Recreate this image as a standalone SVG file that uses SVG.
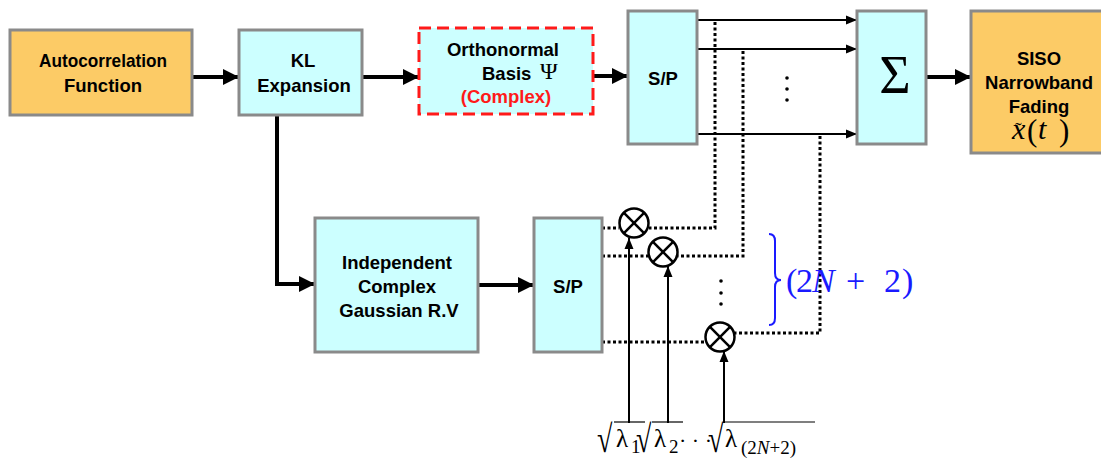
<svg xmlns="http://www.w3.org/2000/svg" width="1101" height="460" viewBox="0 0 1101 460">
<style>
.box{stroke:#8a8a8a;stroke-width:3}
.cyan{fill:#ccffff}
.orange{fill:#fccb66}
.lbl{font-family:"Liberation Sans",Arial,sans-serif;font-weight:bold;font-size:18.5px;fill:#000;text-anchor:middle}
.thick{stroke:#000;stroke-width:4;fill:none}
.thin{stroke:#000;stroke-width:2;fill:none}
.dot{stroke:#000;stroke-width:3;fill:none;stroke-dasharray:3 2.5}
.math{font-family:"Liberation Serif","Times New Roman",serif;fill:#000}
.blue{fill:#1a1aff}
.mul circle{fill:#fff;stroke:#000;stroke-width:2.5}
.mul line{stroke:#000;stroke-width:2.5}
</style>
<defs>
<marker id="ah" markerUnits="userSpaceOnUse" markerWidth="17" markerHeight="17" refX="16" refY="8" orient="auto"><path d="M0,0 L16,8 L0,16 z" fill="#000"/></marker>
<marker id="ah2" markerUnits="userSpaceOnUse" markerWidth="12" markerHeight="10" refX="11" refY="5" orient="auto"><path d="M0,0.5 L11,5 L0,9.5 z" fill="#000"/></marker>
</defs>
<rect width="1101" height="460" fill="#fff"/>

<g id="connectors">
<line class="thick" x1="192" y1="77" x2="239" y2="77" marker-end="url(#ah)"/>
<line class="thick" x1="362" y1="77" x2="419" y2="77" marker-end="url(#ah)"/>
<line class="thick" x1="593" y1="76" x2="628" y2="76" marker-end="url(#ah)"/>
<line class="thick" x1="926" y1="77" x2="971" y2="77" marker-end="url(#ah)"/>
<polyline class="thick" points="277,115 277,284 315,284" marker-end="url(#ah)"/>
<line class="thick" x1="478" y1="285" x2="534" y2="285" marker-end="url(#ah)"/>
<line class="thin" x1="697" y1="20" x2="857" y2="20" marker-end="url(#ah2)"/>
<line class="thin" x1="697" y1="49" x2="857" y2="49" marker-end="url(#ah2)"/>
<line class="thin" x1="697" y1="134" x2="857" y2="134" marker-end="url(#ah2)"/>
<polyline class="dot" points="715,22 715,228 649,228"/>
<polyline class="dot" points="743,51 743,256 678,256"/>
<polyline class="dot" points="820,136 820,333 735,333"/>
<line class="dot" x1="602" y1="228" x2="619" y2="228"/>
<line class="dot" x1="602" y1="256" x2="648" y2="256"/>
<line class="dot" x1="602" y1="342" x2="706" y2="342"/>
<line class="thin" x1="629" y1="423" x2="629" y2="238" marker-end="url(#ah2)"/>
<line class="thin" x1="668" y1="423" x2="668" y2="266" marker-end="url(#ah2)"/>
<line class="thin" x1="724" y1="423" x2="724" y2="351" marker-end="url(#ah2)"/>
</g>

<g id="autocorrelation">
<rect class="box orange" x="10" y="30" width="182" height="85"/>
<text class="lbl" x="103" y="67" textLength="128" lengthAdjust="spacingAndGlyphs">Autocorrelation</text>
<text class="lbl" x="103" y="92">Function</text>
</g>
<g id="kl">
<rect class="box cyan" x="239" y="30" width="123" height="85"/>
<text class="lbl" x="303" y="67">KL</text>
<text class="lbl" x="304" y="92">Expansion</text>
</g>
<g id="orthonormal">
<rect class="cyan" x="419" y="28" width="174" height="86" stroke="#ff1a1a" stroke-width="3" stroke-dasharray="12 6"/>
<text class="lbl" x="503" y="56">Orthonormal</text>
<text class="lbl" x="482" y="80" style="text-anchor:start">Basis</text>
<text class="math" x="540" y="79" font-size="24">Ψ</text>
<text class="lbl" x="506" y="103" style="fill:#ff1a1a">(Complex)</text>
</g>
<g id="sp-top">
<rect class="box cyan" x="628" y="11" width="69" height="133"/>
<text class="lbl" x="663" y="85">S/P</text>
</g>
<g id="sum">
<rect class="box cyan" x="857" y="11" width="69" height="133"/>
<text class="math" x="895" y="93" font-size="54" text-anchor="middle">Σ</text>
</g>
<g id="siso">
<rect class="box orange" x="971" y="11" width="132" height="142"/>
<text class="lbl" x="1039" y="65">SISO</text>
<text class="lbl" x="1039" y="89">Narrowband</text>
<text class="lbl" x="1039" y="113">Fading</text>
<text class="math" x="1012" y="139" font-size="30" font-style="italic">x</text>
<text class="math" x="1015" y="137" font-size="20">˜</text>
<text class="math" x="1027" y="141" font-size="31">(</text>
<text class="math" x="1038" y="139" font-size="30" font-style="italic">t</text>
<text class="math" x="1059" y="141" font-size="31">)</text>
</g>
<g id="dots-top" fill="#000">
<circle cx="787" cy="78" r="1.8"/><circle cx="787" cy="89" r="1.8"/><circle cx="787" cy="100" r="1.8"/>
</g>
<g id="gaussian">
<rect class="box cyan" x="315" y="218" width="163" height="134"/>
<text class="lbl" x="397" y="269">Independent</text>
<text class="lbl" x="397" y="293">Complex</text>
<text class="lbl" x="399" y="317">Gaussian R.V</text>
</g>
<g id="sp-bottom">
<rect class="box cyan" x="534" y="218" width="68" height="134"/>
<text class="lbl" x="568" y="293">S/P</text>
</g>
<g id="mult1" class="mul">
<circle cx="634" cy="223" r="14.5"/>
<line x1="623.7" y1="212.7" x2="644.3" y2="233.3"/><line x1="644.3" y1="212.7" x2="623.7" y2="233.3"/>
</g>
<g id="mult2" class="mul">
<circle cx="663" cy="252" r="14.5"/>
<line x1="652.7" y1="241.7" x2="673.3" y2="262.3"/><line x1="673.3" y1="241.7" x2="652.7" y2="262.3"/>
</g>
<g id="mult3" class="mul">
<circle cx="720" cy="337" r="14.5"/>
<line x1="709.7" y1="326.7" x2="730.3" y2="347.3"/><line x1="730.3" y1="326.7" x2="709.7" y2="347.3"/>
</g>
<g id="dots-bottom" fill="#000">
<circle cx="721" cy="281" r="1.8"/><circle cx="721" cy="293" r="1.8"/><circle cx="721" cy="304" r="1.8"/>
</g>
<g id="brace">
<path d="M769,234 Q775,234 775,241 L775,273 Q775,280 781,280 Q775,280 775,287 L775,318 Q775,325 769,325" fill="none" stroke="#1a1aff" stroke-width="2"/>
<text class="math blue" font-size="34" y="292"><tspan x="786">(</tspan><tspan x="796">2</tspan><tspan x="812" font-style="italic">N</tspan><tspan x="846">+</tspan><tspan x="884">2</tspan><tspan x="902">)</tspan></text>
</g>
<g id="sqrt-labels">
<line x1="614" y1="422" x2="645" y2="422" stroke="#000" stroke-width="1.2"/>
<line x1="652" y1="422" x2="683" y2="422" stroke="#000" stroke-width="1.2"/>
<line x1="724" y1="422" x2="815" y2="422" stroke="#000" stroke-width="1.2"/>
<text class="math" font-size="28" transform="translate(597,452) scale(1,1.38)">√</text>
<text class="math" x="616" y="447" font-size="25">λ</text>
<text class="math" x="631" y="453" font-size="19">1</text>
<text class="math" font-size="28" transform="translate(636,452) scale(1,1.38)">√</text>
<text class="math" x="654" y="447" font-size="25">λ</text>
<text class="math" x="669" y="453" font-size="19">2</text>
<text class="math" x="679" y="448" font-size="22">· · ·</text>
<text class="math" font-size="28" transform="translate(708,452) scale(1,1.38)">√</text>
<text class="math" x="725" y="447" font-size="25">λ</text>
<text class="math" x="741" y="454" font-size="19">(2<tspan font-style="italic">N</tspan>+2)</text>
</g>
</svg>
